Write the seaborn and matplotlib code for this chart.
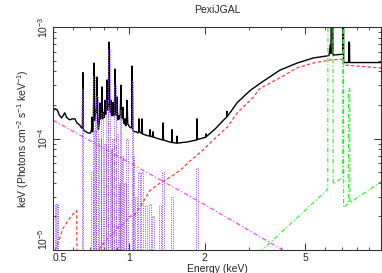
import numpy as np
import pandas as pd
import seaborn as sns
import matplotlib
matplotlib.use("Agg")
from matplotlib import pyplot as plt
from matplotlib.ticker import FixedLocator, NullFormatter

# ---- data (energy in keV, flux in keV Photons cm^-2 s^-1 keV^-1)
black_e = [0.500, 0.510, 0.520, 0.530, 0.541, 0.550, 0.557, 0.566, 0.575, 0.584, 0.596, 0.611,
           0.622, 0.638, 0.650, 0.654, 0.657, 0.660, 0.675, 0.690, 0.705, 0.711, 0.714, 0.717,
           0.722, 0.727, 0.731, 0.737, 0.742, 0.747, 0.752, 0.757, 0.763, 0.768, 0.773, 0.778,
           0.782, 0.787, 0.793, 0.799, 0.804, 0.810, 0.815, 0.819, 0.824, 0.829, 0.834, 0.839,
           0.845, 0.850, 0.856, 0.861, 0.865, 0.871, 0.876, 0.881, 0.886, 0.892, 0.897, 0.903,
           0.910, 0.917, 0.924, 0.930, 0.936, 0.942, 0.947, 0.953, 0.960, 0.966, 0.972, 0.978,
           0.983, 0.990, 1.000, 1.012, 1.025, 1.030, 1.036, 1.050, 1.070, 1.085, 1.093, 1.097,
           1.102, 1.115, 1.123, 1.127, 1.132, 1.170, 1.208, 1.213, 1.218, 1.240, 1.246, 1.252,
           1.300, 1.360, 1.366, 1.372, 1.430, 1.478, 1.483, 1.488, 1.548, 1.553, 1.558, 1.700,
           1.850, 1.858, 1.863, 1.868, 2.000, 2.019, 2.024, 2.029, 2.200, 2.400, 2.440, 2.450,
           2.460, 2.690, 3.030, 3.300, 3.970, 4.650, 5.380, 6.100, 6.220, 6.290, 6.330, 6.360,
           6.430, 6.450, 7.050, 7.060, 7.100, 7.110, 7.440, 7.450, 7.500, 7.510, 10.00]
black_v = [1.77e-4, 1.85e-4, 1.80e-4, 1.62e-4, 1.53e-4, 1.62e-4, 1.70e-4, 1.55e-4, 1.50e-4,
           1.47e-4, 1.50e-4, 1.50e-4, 1.38e-4, 1.32e-4, 1.24e-4, 1.24e-4, 3.90e-4, 1.20e-4,
           1.15e-4, 1.12e-4, 1.12e-4, 1.20e-4, 1.55e-4, 1.15e-4, 1.20e-4, 4.75e-4, 1.45e-4,
           1.80e-4, 1.70e-4, 3.56e-4, 1.50e-4, 1.20e-4, 1.40e-4, 2.08e-4, 1.50e-4, 1.60e-4,
           2.90e-4, 1.50e-4, 1.70e-4, 1.55e-4, 2.20e-4, 1.65e-4, 1.80e-4, 3.35e-4, 1.80e-4,
           2.00e-4, 7.30e-4, 2.00e-4, 1.70e-4, 2.20e-4, 1.60e-4, 1.80e-4, 2.10e-4, 1.60e-4,
           1.75e-4, 4.20e-4, 1.80e-4, 1.60e-4, 2.36e-4, 1.47e-4, 1.60e-4, 1.50e-4, 1.65e-4,
           3.00e-4, 1.50e-4, 1.60e-4, 1.90e-4, 1.40e-4, 1.35e-4, 1.50e-4, 1.30e-4, 1.45e-4,
           2.20e-4, 1.35e-4, 1.30e-4, 1.25e-4, 1.25e-4, 4.47e-4, 1.20e-4, 1.15e-4, 1.15e-4,
           1.12e-4, 1.15e-4, 1.50e-4, 1.15e-4, 1.12e-4, 1.12e-4, 1.50e-4, 1.10e-4, 1.07e-4,
           1.05e-4, 1.20e-4, 1.05e-4, 1.03e-4, 1.15e-4, 1.03e-4, 1.00e-4, 9.70e-5, 1.38e-4,
           9.70e-5, 9.40e-5, 9.20e-5, 1.20e-4, 9.20e-5, 9.10e-5, 1.05e-4, 9.10e-5, 9.30e-5,
           9.70e-5, 9.70e-5, 1.50e-4, 9.80e-5, 1.02e-4, 1.03e-4, 1.10e-4, 1.04e-4, 1.22e-4,
           1.50e-4, 1.55e-4, 1.75e-4, 1.58e-4, 2.10e-4, 2.70e-4, 3.10e-4, 4.10e-4, 4.75e-4,
           5.27e-4, 5.50e-4, 5.55e-4, 6.90e-4, 5.80e-4, 2.00e-3, 2.00e-3, 5.60e-4, 5.70e-4,
           2.00e-3, 2.00e-3, 4.80e-4, 4.80e-4, 7.30e-4, 7.30e-4, 4.80e-4, 4.80e-4]

red_e = [0.510, 0.530, 0.547, 0.570, 0.600, 0.621, 0.623, 0.700, 0.770, 0.830, 0.860, 0.905,
         0.950, 1.010, 1.060, 1.140, 1.210, 1.330, 1.460, 1.600, 1.750, 1.970, 2.160, 2.460,
         2.690, 3.120, 3.300, 3.970, 4.650, 5.380, 6.290, 7.080, 7.110, 10.00]
red_v = [1.0e-5, 1.25e-5, 1.55e-5, 1.8e-5, 2.1e-5, 2.25e-5, 6.0e-6, 7.0e-6, 1.05e-5, 1.3e-5,
         1.38e-5, 1.6e-5, 1.7e-5, 2.0e-5, 2.1e-5, 2.7e-5, 3.4e-5, 4.0e-5, 4.5e-5, 5.2e-5,
         6.3e-5, 7.9e-5, 9.7e-5, 1.27e-4, 1.7e-4, 2.35e-4, 2.8e-4, 3.5e-4, 4.3e-4, 4.75e-4,
         5.06e-4, 5.15e-4, 4.56e-4, 4.29e-4]

magenta_e = [0.500, 1.000, 2.000, 4.200]
magenta_v = [1.46e-4, 6.1e-5, 2.55e-5, 9.6e-6]

green_e = [3.30, 6.15, 6.16, 6.45, 6.46, 7.05, 7.06, 7.10, 7.11, 7.42, 7.43, 7.52, 7.53, 10.0]
green_v = [9.5e-6, 3.5e-5, 3.0e-3, 3.0e-3, 3.9e-5, 4.5e-5, 3.0e-3, 3.0e-3, 2.4e-5, 2.6e-5,
           2.8e-4, 2.8e-4, 2.65e-5, 4.1e-5]

# emission lines of the thermal component: energy and peak
purple_e = [0.510, 0.520, 0.657, 0.714, 0.727, 0.734, 0.747, 0.768, 0.782, 0.804, 0.819,
            0.834, 0.850, 0.865, 0.881, 0.897, 0.915, 0.930, 0.947, 0.965, 0.983, 1.030,
            1.045, 1.067, 1.097, 1.127, 1.169, 1.213, 1.246, 1.329, 1.366, 1.483, 1.863]
purple_peak = [2.6e-5, 2.6e-5, 2.8e-4, 5.0e-5, 3.6e-4, 1.2e-4, 2.4e-4, 1.0e-4, 1.7e-4, 9.0e-5,
               2.2e-4, 6.2e-4, 8.0e-5, 1.0e-4, 3.0e-4, 1.1e-4, 4.0e-5, 1.8e-4, 7.0e-5, 4.0e-5,
               1.0e-4, 3.3e-4, 7.0e-5, 3.0e-5, 5.0e-5, 5.0e-5, 2.5e-5, 2.6e-5, 2.0e-5, 2.5e-5,
               5.0e-5, 3.0e-5, 5.4e-5]
purple_floor = 8e-6

# each line is a narrow bin: step up and back down
pur_x, pur_y = [], []
for e, h in zip(purple_e, purple_peak):
    lo, hi = e * 0.995, e * 1.005
    pur_x += [lo, lo, hi, hi]
    pur_y += [purple_floor, h, h, purple_floor]

sns.set_theme(style="ticks")
plt.rcParams["font.family"] = ["Liberation Sans", "DejaVu Sans"]
plt.rcParams["mathtext.fontset"] = "custom"
plt.rcParams["mathtext.rm"] = "Liberation Sans"
plt.rcParams["mathtext.default"] = "regular"

fig = plt.figure(figsize=(3.82, 2.73), dpi=100)
ax = fig.add_axes([53 / 382, 23 / 273, 328 / 382, 223 / 273])

sns.lineplot(x=black_e, y=black_v, sort=False, estimator=None, ax=ax, color="black", lw=1.0)
sns.lineplot(x=red_e, y=red_v, sort=False, estimator=None, ax=ax, color="#ff2a2a", lw=0.8,
             dashes=(3, 2))
sns.lineplot(x=magenta_e, y=magenta_v, sort=False, estimator=None, ax=ax, color="#ff33ff", lw=0.8,
             dashes=(4, 2, 1, 2))
sns.lineplot(x=green_e, y=green_v, sort=False, estimator=None, ax=ax, color="#22ee22", lw=0.8,
             dashes=(4, 2, 1, 2))
sns.lineplot(x=pur_x, y=pur_y, sort=False, estimator=None, ax=ax, color="#9a50ff", lw=0.75,
             dashes=(1, 1.2))

ax.set_xscale("log")
ax.set_yscale("log")
ax.set_xlim(0.5, 10)
ax.set_ylim(1e-5, 1e-3)

ax.xaxis.set_major_locator(FixedLocator([0.5, 1, 2, 5]))
ax.xaxis.set_minor_locator(FixedLocator([0.6, 0.7, 0.8, 0.9, 3, 4, 6, 7, 8, 9]))
ax.xaxis.set_minor_formatter(NullFormatter())
ax.set_xticklabels(["0.5", "1", "2", "5"])
ax.get_xticklabels()[0].set_ha("left")

ax.yaxis.set_major_locator(FixedLocator([1e-5, 1e-4, 1e-3]))
ax.yaxis.set_minor_locator(FixedLocator([k * 10.0 ** p for p in (-5, -4) for k in range(2, 10)]))
ax.yaxis.set_minor_formatter(NullFormatter())
ax.set_yticklabels(["10$^{-5}$", "10$^{-4}$", "10$^{-3}$"], rotation=90)
# keep the lowest label inside the axis range, as the reference does
for lab, va in zip(ax.get_yticklabels(), ["bottom", "center", "center"]):
    lab.set_va(va)

ax.tick_params(which="both", direction="in", top=True, right=True, labelsize=7.5,
               color="#333333", pad=2)
ax.tick_params(which="major", length=5, width=0.7)
ax.tick_params(which="minor", length=2.5, width=0.6)
for s in ax.spines.values():
    s.set_linewidth(0.8)
    s.set_color("#333333")

ax.set_xlabel("Energy (keV)", fontsize=7.5, labelpad=1)
ax.set_ylabel("keV (Photons cm$^{-2}$ s$^{-1}$ keV$^{-1}$)", fontsize=7.5, labelpad=4)
ax.set_title("PexiJGAL", fontsize=7.5, pad=10)

fig.savefig("out.png", dpi=100)
